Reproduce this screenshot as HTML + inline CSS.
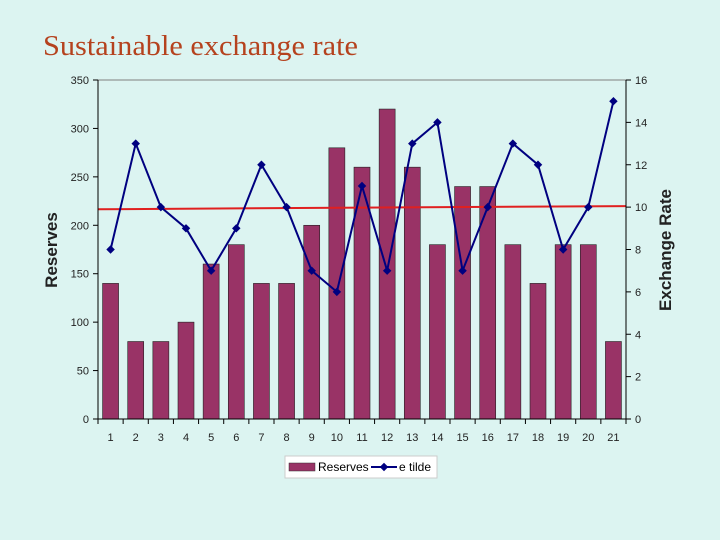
<!DOCTYPE html>
<html><head><meta charset="utf-8"><style>
body{margin:0;background:#dcf4f1;}
svg{display:block;font-family:"Liberation Sans",sans-serif;}
</style></head><body>
<svg id="c" width="720" height="540" viewBox="0 0 720 540">
<rect width="720" height="540" fill="#dcf4f1"/>
<text x="43" y="55" font-family="Liberation Serif, serif" font-size="29" fill="#b5421e" textLength="315" lengthAdjust="spacingAndGlyphs">Sustainable exchange rate</text>
<g id="g"></g>
<g>
<rect x="285" y="456" width="152" height="22" fill="#fff" stroke="#ccc"/>
<rect x="289" y="463" width="26" height="8" fill="#993366" stroke="#333" stroke-width="0.5"/>
<text x="318" y="471" font-size="12" fill="#000">Reserves</text>
<line x1="371" y1="467" x2="397" y2="467" stroke="#000080" stroke-width="2"/>
<rect x="381" y="464" width="6" height="6" fill="#000080" transform="rotate(45 384 467)"/>
<text x="399" y="471" font-size="12" fill="#000">e tilde</text>
</g>
</svg>
<script>
const categories=["1","2","3","4","5","6","7","8","9","10","11","12","13","14","15","16","17","18","19","20","21"];
const reserves=[140,80,80,100,160,180,140,140,200,280,260,320,260,180,240,240,180,140,180,180,80];
const eTilde=[8,13,10,9,7,9,12,10,7,6,11,7,13,14,7,10,13,12,8,10,15];
const leftTicks=[0,50,100,150,200,250,300,350];
const rightTicks=[0,2,4,6,8,10,12,14,16];
const sustainable=[9.9,10.05];
const X0=98,X1=626,Y0=419,Y1=80;
const n=categories.length,cw=(X1-X0)/n;
const yL=v=>Y0-v/350*(Y0-Y1);
const yR=v=>Y0-v/16*(Y0-Y1);
const xc=i=>X0+cw*(i+0.5);
const NS="http://www.w3.org/2000/svg";
const g=document.getElementById('g');
function mk(t,a,txt){const e=document.createElementNS(NS,t);for(const k in a)e.setAttribute(k,a[k]);if(txt!=null)e.textContent=txt;g.appendChild(e);return e;}
let e=mk('line',{x1:X0,y1:Y1,x2:X1,y2:Y1,stroke:'#808080'});


reserves.forEach((v,i)=>{const b=mk('rect',{x:xc(i)-8,y:yL(v),width:16,height:Y0-yL(v),fill:'#993366',stroke:'#222','stroke-width':0.6});

});
e=mk('line',{x1:X0,y1:yR(sustainable[0]),x2:X1,y2:yR(sustainable[1]),stroke:'#e02020','stroke-width':2});


e=mk('polyline',{points:eTilde.map((v,i)=>xc(i)+','+yR(v)).join(' '),fill:'none',stroke:'#000080','stroke-width':2});


eTilde.forEach((v,i)=>{const m=mk('rect',{x:xc(i)-3,y:yR(v)-3,width:6,height:6,fill:'#000080',transform:`rotate(45 ${xc(i)} ${yR(v)})`});

});
e=mk('line',{x1:X0,y1:Y1,x2:X0,y2:Y0,stroke:'#000'});


e=mk('line',{x1:X1,y1:Y1,x2:X1,y2:Y0,stroke:'#000'});


e=mk('line',{x1:X0,y1:Y0,x2:X1,y2:Y0,stroke:'#000'});


leftTicks.forEach(v=>{mk('line',{x1:X0-5,y1:yL(v),x2:X0,y2:yL(v),stroke:'#000'});
const t=mk('text',{x:X0-9,y:yL(v)+4,'text-anchor':'end','font-size':11,fill:'#222'},v);

});
rightTicks.forEach(v=>{mk('line',{x1:X1,y1:yR(v),x2:X1+5,y2:yR(v),stroke:'#000'});
const t=mk('text',{x:X1+9,y:yR(v)+4,'font-size':11,fill:'#222'},v);

});
for(let i=0;i<=n;i++)mk('line',{x1:X0+cw*i,y1:Y0,x2:X0+cw*i,y2:Y0+5,stroke:'#000'});
categories.forEach((c,i)=>{const t=mk('text',{x:xc(i),y:Y0+22,'text-anchor':'middle','font-size':11,fill:'#222'},c);

});
e=mk('text',{x:0,y:0,transform:'translate(57 250) rotate(-90)','text-anchor':'middle','font-size':17,'font-weight':'bold',fill:'#222'},'Reserves');


e=mk('text',{x:0,y:0,transform:'translate(671 250) rotate(-90)','text-anchor':'middle','font-size':17,'font-weight':'bold',fill:'#222'},'Exchange Rate');


</script>
</body></html>
